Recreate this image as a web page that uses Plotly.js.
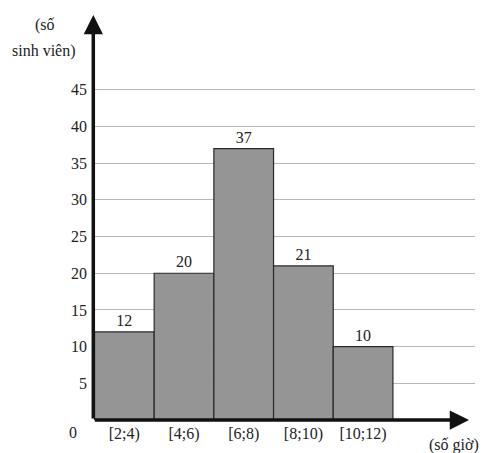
<!DOCTYPE html>
<html><head><meta charset="utf-8">
<script src="https://cdn.plot.ly/plotly-3.0.1.min.js"></script>
<style>html,body{margin:0;padding:0;background:#fff}</style>
</head><body><div id="chart" style="width:484px;height:453px"></div>
<script>
const categories = ["[2;4)", "[4;6)", "[6;8)", "[8;10)", "[10;12)"];
const midpoints = [3, 5, 7, 9, 11];
const students = [12, 20, 37, 21, 10];
const yTicks = [5, 10, 15, 20, 25, 30, 35, 40, 45];

const serif = "'Liberation Serif', 'Times New Roman', Times, serif";
const trace = {
  type: "bar", x: midpoints, y: students, width: 2,
  text: students.map(String), textposition: "outside", cliponaxis: false,
  textfont: {family: serif, size: 16, color: "#222"},
  marker: {color: "#959595", line: {color: "#2a2a2a", width: 1.2}},
  hoverinfo: "skip"
};
const layout = {
  width: 484, height: 453,
  margin: {l: 93, r: 9, t: 15, b: 33},
  paper_bgcolor: "#fff", plot_bgcolor: "#fff",
  showlegend: false, bargap: 0,
  font: {family: serif, size: 16, color: "#222"},
  xaxis: {range: [1.95, 14.75], tickvals: midpoints, ticktext: categories,
          showgrid: false, zeroline: false, showline: false, ticks: "",
          ticklabelstandoff: 2, tickfont: {family: serif, size: 16, color: "#222"}},
  yaxis: {range: [0, 55.2], tickvals: yTicks, ticktext: yTicks.map(String),
          showgrid: true, gridcolor: "#b8b8b8", gridwidth: 1,
          zeroline: false, showline: false, ticks: "", ticklabelstandoff: 5,
          tickfont: {family: serif, size: 16, color: "#222"}},
  annotations: [
    {x: 1.96, y: 55.2, xref: "x", yref: "y", axref: "x", ayref: "y", ax: 1.96, ay: 0,
     showarrow: true, arrowhead: 2, arrowsize: 1.1, arrowwidth: 3.5, arrowcolor: "#111", text: ""},
    {x: 14.55, y: 0, xref: "x", yref: "y", axref: "x", ayref: "y", ax: 1.96, ay: 0,
     showarrow: true, arrowhead: 2, arrowsize: 1.1, arrowwidth: 3.5, arrowcolor: "#111", text: ""},
    {x: 45, y: 25, text: "(số", showarrow: false},
    {x: 44, y: 51, text: "sinh viên)", showarrow: false},
    {x: 73, y: 432, text: "0", showarrow: false},
    {x: 454, y: 445, text: "(số giờ)", showarrow: false}
  ]
};
// convert pixel-positioned text annotations to paper coords
const pw = 484 - 93 - 9, ph = 453 - 15 - 33;
layout.annotations.forEach((a, i) => {
  if (i >= 2) {
    a.xref = "paper"; a.yref = "paper";
    a.x = (a.x - 93) / pw; a.y = 1 - (a.y - 15) / ph;
    a.xanchor = "center"; a.yanchor = "middle";
  }
});
Plotly.newPlot("chart", [trace], layout, {displayModeBar: false, staticPlot: true});
</script></body></html>
